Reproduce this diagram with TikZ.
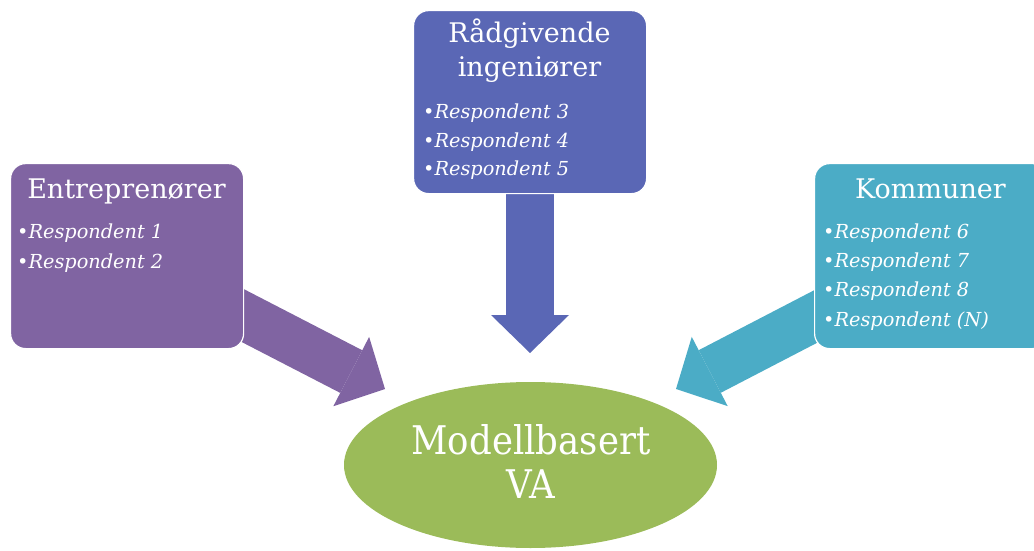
\documentclass[tikz,border=0pt]{standalone}
\usepackage{fontspec}
\setmainfont{DejaVu Serif}
\newfontfamily\centrefont[FakeStretch=0.9]{DejaVu Serif}
\usetikzlibrary{arrows.meta,shapes.geometric}
\definecolor{entrep}{HTML}{8064A2}
\definecolor{raadg}{HTML}{5A67B5}
\definecolor{kommune}{HTML}{4BACC6}
\definecolor{modell}{HTML}{9BBB59}
\begin{document}
\begin{tikzpicture}[x=1pt,y=-1pt,
  groupbox/.style={fill=#1, draw=white, line width=1.2pt, rounded corners=15pt,
    minimum width=233pt, minimum height=185pt, inner sep=0pt, anchor=north west},
  grouptitle/.style={text=white, font=\fontsize{27}{30}\selectfont, anchor=base, inner sep=0pt},
  centretitle/.style={text=white, font=\centrefont\fontsize{39.5}{42}\selectfont, anchor=base, inner sep=0pt},
  respitem/.style={text=white, font=\fontsize{19.3}{22}\selectfont\itshape, anchor=base west, inner sep=0pt},
  fatarrow/.style={draw=#1, line width=48pt,
    -{Triangle[length=38pt,width=78pt,line width=0pt]}}]
  \useasboundingbox (0,0) rectangle (1034,551);
  \clip (0,0) rectangle (1034,551);

  % arrow end points
  \coordinate (eStart) at (201,294);
  \coordinate (eTip)   at (385,389);
  \coordinate (rStart) at (530,180);
  \coordinate (rTip)   at (530,353);
  \coordinate (kStart) at (859,294);
  \coordinate (kTip)   at (676,389);

  % block arrows (drawn first, boxes cover their tails)
  \draw[fatarrow=entrep]  (eStart) -- (eTip);
  \draw[fatarrow=raadg]   (rStart) -- (rTip);
  \draw[fatarrow=kommune] (kStart) -- (kTip);

  % group boxes
  \node[groupbox=entrep]  (entr) at (10,163)  {};
  \node[groupbox=raadg, minimum height=183pt] (raad) at (413,10) {};
  \node[groupbox=kommune] (komm) at (814,163) {};

  % centre ellipse
  \node[ellipse, fill=modell, minimum width=373pt, minimum height=166pt] (va) at (530.5,465) {};

  % texts: Entreprenører
  \node[grouptitle] (entrT) at (126.5,198) {Entreprenører};
  \node[respitem] (r1) at (17,238) {•Respondent 1};
  \node[respitem] (r2) at (17,268) {•Respondent 2};

  % texts: Rådgivende ingeniører
  \node[grouptitle] (raadT1) at (529.5,43) {Rådgivende};
  \node[grouptitle] (raadT2) at (529.5,77) {ingeniører};
  \node[respitem] (r3) at (423,118) {•Respondent 3};
  \node[respitem] (r4) at (423,147) {•Respondent 4};
  \node[respitem] (r5) at (423,175) {•Respondent 5};

  % texts: Kommuner
  \node[grouptitle] (kommT) at (930.5,198) {Kommuner};
  \node[respitem] (r6) at (823,238) {•Respondent 6};
  \node[respitem] (r7) at (823,267) {•Respondent 7};
  \node[respitem] (r8) at (823,296) {•Respondent 8};
  \node[respitem] (rN) at (823,326) {•Respondent (N)};

  % texts: ellipse
  \node[centretitle] (vaT1) at (531,454) {Modellbasert};
  \node[centretitle] (vaT2) at (531,498) {VA};
\end{tikzpicture}
\end{document}
